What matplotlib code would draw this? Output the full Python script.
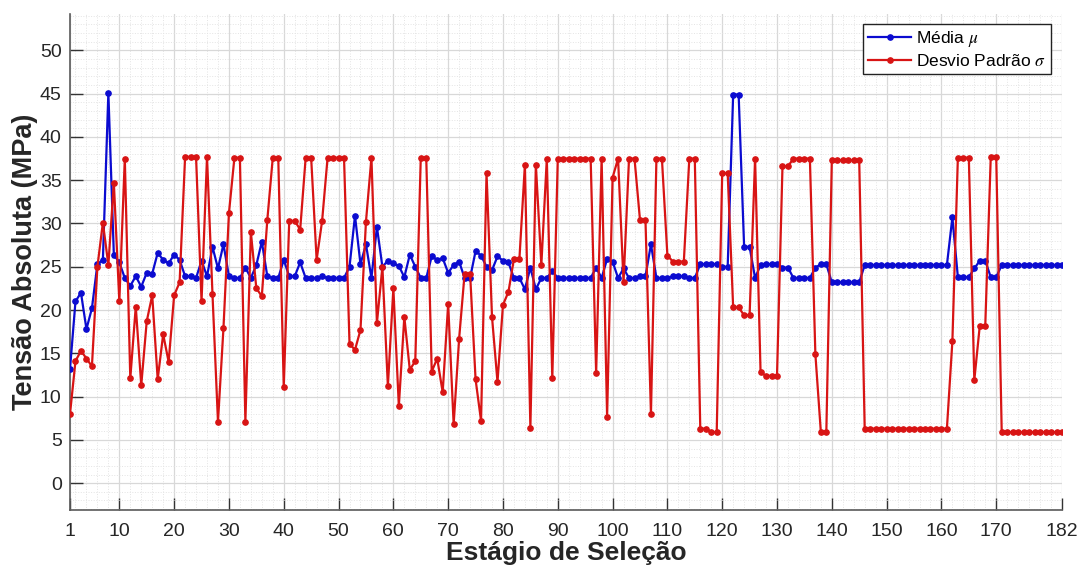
import matplotlib
matplotlib.use("Agg")
import matplotlib.pyplot as plt
from matplotlib.ticker import MultipleLocator, FixedLocator

plt.rcParams['font.family'] = ['Liberation Sans', 'DejaVu Sans']
plt.rcParams['mathtext.fontset'] = 'stix'

# ---------------- data ----------------
stages = list(range(1, 183))

media = [
    13.2, 21.0, 22.0, 17.8, 20.2, 25.3, 25.8, 45.1, 26.4, 25.5,
    23.7, 22.8, 23.9, 22.7, 24.3, 24.2, 26.6, 25.8, 25.4, 26.4,
    25.8, 23.9, 23.9, 23.7, 25.7, 23.9, 27.3, 24.8, 27.6, 23.9,
    23.7, 23.7, 24.9, 23.7, 25.2, 27.9, 23.9, 23.7, 23.7, 25.8,
    23.9, 23.9, 25.5, 23.7, 23.7, 23.7, 23.9, 23.7, 23.7, 23.7,
    23.7, 25.0, 30.9, 25.3, 27.6, 23.7, 29.6, 25.0, 25.7, 25.4,
    25.1, 23.8, 26.4, 25.0, 23.7, 23.7, 26.2, 25.8, 26.0, 24.3,
    25.2, 25.6, 23.7, 23.7, 26.8, 26.3, 25.0, 24.6, 26.2, 25.7,
    25.5, 23.7, 23.7, 22.4, 24.9, 22.4, 23.7, 23.7, 24.5, 23.7,
    23.7, 23.7, 23.7, 23.7, 23.7, 23.7, 24.9, 23.7, 25.9, 25.6,
    23.7, 24.8, 23.7, 23.7, 23.9, 23.9, 27.6, 23.7, 23.7, 23.7,
    23.9, 23.9, 23.9, 23.7, 23.7, 25.3, 25.3, 25.3, 25.3, 25.0,
    25.0, 44.9, 44.9, 27.3, 27.3, 23.7, 25.2, 25.3, 25.3, 25.3,
    24.9, 24.9, 23.7, 23.7, 23.7, 23.7, 24.9, 25.3, 25.3, 23.2,
    23.2, 23.2, 23.2, 23.2, 23.2, 25.2, 25.2, 25.2, 25.2, 25.2,
    25.2, 25.2, 25.2, 25.2, 25.2, 25.2, 25.2, 25.2, 25.2, 25.2,
    25.2, 30.7, 23.8, 23.8, 23.8, 24.8, 25.7, 25.7, 23.8, 23.8,
    25.2, 25.2, 25.2, 25.2, 25.2, 25.2, 25.2, 25.2, 25.2, 25.2,
    25.2, 25.2,
]

desvio = [
    8.0, 14.1, 15.3, 14.4, 13.5, 25.0, 30.1, 25.2, 34.7, 21.0,
    37.5, 12.1, 20.4, 11.3, 18.7, 21.7, 12.0, 17.2, 14.0, 21.7,
    23.2, 37.7, 37.7, 37.7, 21.0, 37.7, 21.8, 7.1, 17.9, 31.2,
    37.6, 37.6, 7.1, 29.0, 22.5, 21.6, 30.4, 37.6, 37.6, 11.1,
    30.3, 30.3, 29.3, 37.6, 37.6, 25.8, 30.3, 37.6, 37.6, 37.6,
    37.6, 16.1, 15.4, 17.7, 30.2, 37.6, 18.5, 25.0, 11.2, 22.5,
    8.9, 19.2, 13.1, 14.1, 37.6, 37.6, 12.9, 14.4, 10.5, 20.7,
    6.8, 16.7, 24.2, 24.2, 12.0, 7.2, 35.8, 19.2, 11.7, 20.6,
    22.1, 25.9, 25.9, 36.8, 6.4, 36.8, 25.2, 37.5, 12.1, 37.5,
    37.5, 37.5, 37.5, 37.5, 37.5, 37.5, 12.7, 37.5, 7.7, 35.3,
    37.5, 23.2, 37.5, 37.5, 30.4, 30.4, 8.0, 37.5, 37.5, 26.3,
    25.6, 25.6, 25.6, 37.5, 37.5, 6.3, 6.3, 5.9, 5.9, 35.8,
    35.8, 20.3, 20.3, 19.4, 19.4, 37.5, 12.8, 12.4, 12.4, 12.4,
    36.6, 36.6, 37.5, 37.5, 37.5, 37.5, 14.9, 5.9, 5.9, 37.3,
    37.3, 37.3, 37.3, 37.3, 37.3, 6.3, 6.3, 6.3, 6.3, 6.3,
    6.3, 6.3, 6.3, 6.3, 6.3, 6.3, 6.3, 6.3, 6.3, 6.3,
    6.3, 16.4, 37.6, 37.6, 37.6, 11.9, 18.2, 18.2, 37.7, 37.7,
    5.9, 5.9, 5.9, 5.9, 5.9, 5.9, 5.9, 5.9, 5.9, 5.9,
    5.9, 5.9,
]

x_ticks = [1, 10, 20, 30, 40, 50, 60, 70, 80, 90, 100, 110, 120, 130,
           140, 150, 160, 170, 182]
y_ticks = [0, 5, 10, 15, 20, 25, 30, 35, 40, 45, 50]

label_media = r'Média $\mu$'
label_desvio = r'Desvio Padrão $\sigma$'
xlabel = 'Estágio de Seleção'
ylabel = 'Tensão Absoluta (MPa)'

# ---------------- figure ----------------
fig = plt.figure(figsize=(10.81, 5.74), dpi=100)
ax = fig.add_axes([70 / 1081, 1 - 510 / 574, (1062 - 70) / 1081, (510 - 14) / 574])

blue = '#0b0bd0'
red = '#d81414'
ax.plot(stages, media, '-o', color=blue, lw=1.6, ms=3.8, label=label_media, zorder=3)
ax.plot(stages, desvio, '-o', color=red, lw=1.6, ms=3.8, label=label_desvio, zorder=3)

ax.set_xlim(1, 182)
ax.set_ylim(-3.1, 54.2)
ax.xaxis.set_major_locator(FixedLocator(x_ticks))
ax.yaxis.set_major_locator(FixedLocator(y_ticks))
ax.xaxis.set_minor_locator(MultipleLocator(2))
ax.yaxis.set_minor_locator(MultipleLocator(1))

ax.grid(which='major', color='#d8d8d8', lw=0.9, ls='-', zorder=0)
ax.grid(which='minor', color='#e4e4e4', lw=0.7, ls=':', zorder=0)
ax.set_axisbelow(True)

for s in ['top', 'right']:
    ax.spines[s].set_visible(False)
for s in ['left', 'bottom']:
    ax.spines[s].set_color('#5a5a5a')
    ax.spines[s].set_linewidth(1.2)

ax.tick_params(which='major', direction='in', length=9, width=1.0, color='#333333',
               labelsize=14, labelcolor='#262626')
ax.tick_params(axis='y', which='major', pad=6)
ax.tick_params(axis='x', which='major', pad=9)
ax.tick_params(which='minor', length=0)

ax.set_xlabel(xlabel, fontsize=19, fontweight='bold', color='#262626', labelpad=1)
ax.set_ylabel(ylabel, fontsize=19.5, fontweight='bold', color='#262626', labelpad=1)

leg = ax.legend(loc='upper right', bbox_to_anchor=(1051 / 1081, 1 - 24 / 574),
                bbox_transform=fig.transFigure, fontsize=12.5, frameon=True,
                fancybox=False, edgecolor='#222222', framealpha=1,
                borderpad=0.3, labelspacing=0.2, handlelength=2.5,
                handletextpad=0.25, borderaxespad=0)
leg.get_frame().set_linewidth(1.0)

fig.savefig('out.png', dpi=100)
